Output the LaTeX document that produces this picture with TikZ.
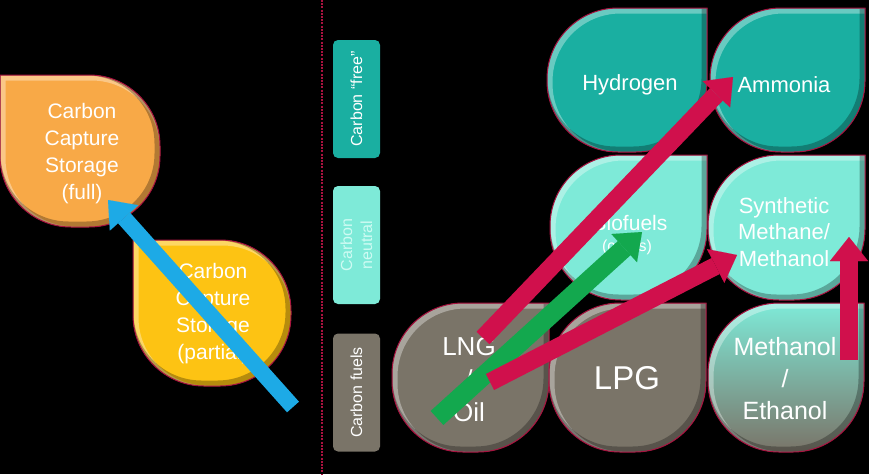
\documentclass[tikz,border=0pt]{standalone}
\usepackage{fontspec}
\setmainfont{Liberation Sans}
\usetikzlibrary{arrows.meta}
\definecolor{cfull}{HTML}{F8A947}
\definecolor{cpart}{HTML}{FDC313}
\definecolor{cdark}{HTML}{1AAFA1}
\definecolor{caqua}{HTML}{7EEAD8}
\definecolor{cgray}{HTML}{7A7468}
\definecolor{cedge}{HTML}{A8123F}
\definecolor{cred}{HTML}{D0104C}
\definecolor{cgreen}{HTML}{13A84E}
\definecolor{cblue}{HTML}{1DAAE6}
\definecolor{cfaint}{HTML}{CFFBF3}
\newcommand\dropshape[2]{%
  \path[fill, rounded corners=71pt, #1] #2;
  \begin{scope}
    \clip[rounded corners=71pt] #2;
    \draw[white, opacity=.35, line width=6pt, rounded corners=71pt, line cap=rect, shift={(2.5,2.5)}] #2;
    \draw[black, opacity=.28, line width=6pt, rounded corners=71pt, line cap=rect, shift={(-2.5,-2.5)}] #2;
  \end{scope}
  \path[drop] #2;}
\newcommand\droptr[5]{\dropshape{#1}{(#4,#3) -- (#4,#5) -- (#2,#5) -- (#2,#3) -- (#4,#3)}}
\newcommand\droptl[5]{\dropshape{#1}{(#2,#3) -- (#4,#3) -- (#4,#5) -- (#2,#5) -- (#2,#3)}}
\tikzset{
  drop/.style={draw=cedge, line width=1pt, rounded corners=71pt, line cap=rect},
  txt/.style={text=white, align=center, inner sep=0pt},
  lbl/.style={rounded corners=5pt, rotate=90, minimum width=118pt, minimum height=47pt, inner sep=0pt, align=center, font=\fontsize{16}{20}\selectfont},
  blockarrow/.style={line width=18pt, -{Triangle[width=38pt,length=24pt,line width=0.01pt]}},
  dashline/.style={draw=cedge, line width=1.3pt, dash pattern=on 2pt off 1.2pt}
}
\begin{document}
\begin{tikzpicture}[x=1pt,y=-1pt]
\fill[black] (0,0) rectangle (869,474);
\useasboundingbox (0,0) rectangle (869,474);

% divider
\coordinate (dtop) at (322,0);
\coordinate (dbot) at (322,474);
\draw[dashline] (dtop) -- (dbot);

% left shapes
\droptl{fill=cfull}{0}{75}{160}{227}
\droptl{fill=cpart}{133}{240}{291}{386}
\node[txt, font=\fontsize{21}{27}\selectfont] (ccsfull) at (82,154) {Carbon\\Capture\\Storage\\(full)};
\node[txt, font=\fontsize{21}{27}\selectfont] (ccspart) at (213,314) {Carbon\\Capture\\Storage\\(partial)};

% category labels
\node[lbl, fill=cdark, text=white] (lfree) at (356.5,99) {Carbon “free”};
\node[lbl, fill=caqua, text=cfaint] (lneutral) at (356.5,245) {Carbon\\neutral};
\node[lbl, fill=cgray, text=white] (lfuels) at (356.5,392.5) {Carbon fuels};

% right grid
\droptr{fill=cdark}{547}{8}{707}{152}
\droptr{fill=cdark}{710}{8}{865}{152}
\droptr{fill=caqua}{550}{155}{707}{300}
\droptr{fill=caqua}{708}{155}{865}{300}
\droptr{fill=cgray}{392}{303}{549}{452}
\droptr{fill=cgray}{549}{303}{706}{452}
\droptr{top color=caqua, middle color=cgray, bottom color=cgray}{708}{303}{864}{452}

\node[txt, font=\fontsize{22}{26}\selectfont] (hyd) at (630,85) {Hydrogen};
\node[txt, font=\fontsize{22}{26}\selectfont] (amm) at (784,85) {Ammonia};
\node[txt, font=\fontsize{21}{26}\selectfont] (bio) at (630,223) {Biofuels};
\node[txt, font=\fontsize{16}{20}\selectfont] (crops) at (627,247) {(crops)};
\node[txt, font=\fontsize{22}{26.5}\selectfont] (syn) at (784,232) {Synthetic\\Methane/\\Methanol};
\node[txt, font=\fontsize{26}{33}\selectfont] (lng) at (469,380) {LNG\\/\\Oil};
\node[txt, font=\fontsize{33}{36}\selectfont] (lpg) at (627,378) {LPG};
\node[txt, font=\fontsize{25}{32}\selectfont] (meth) at (785,379) {Methanol\\/\\Ethanol};

% arrows
\coordinate (bs) at (293,407); \coordinate (be) at (108,200);
\coordinate (r1s) at (483,338); \coordinate (r1e) at (733,77);
\coordinate (gs) at (437,418); \coordinate (ge) at (642,232);
\coordinate (r2s) at (490,382); \coordinate (r2e) at (737,255);
\coordinate (r3s) at (849,360); \coordinate (r3e) at (849,237);
\draw[blockarrow, cblue, line width=16pt] (bs) -- (be);
\draw[blockarrow, cred] (r1s) -- (r1e);
\draw[blockarrow, cgreen, line width=19pt] (gs) -- (ge);
\draw[blockarrow, cred] (r2s) -- (r2e);
\draw[blockarrow, cred] (r3s) -- (r3e);
\end{tikzpicture}
\end{document}
